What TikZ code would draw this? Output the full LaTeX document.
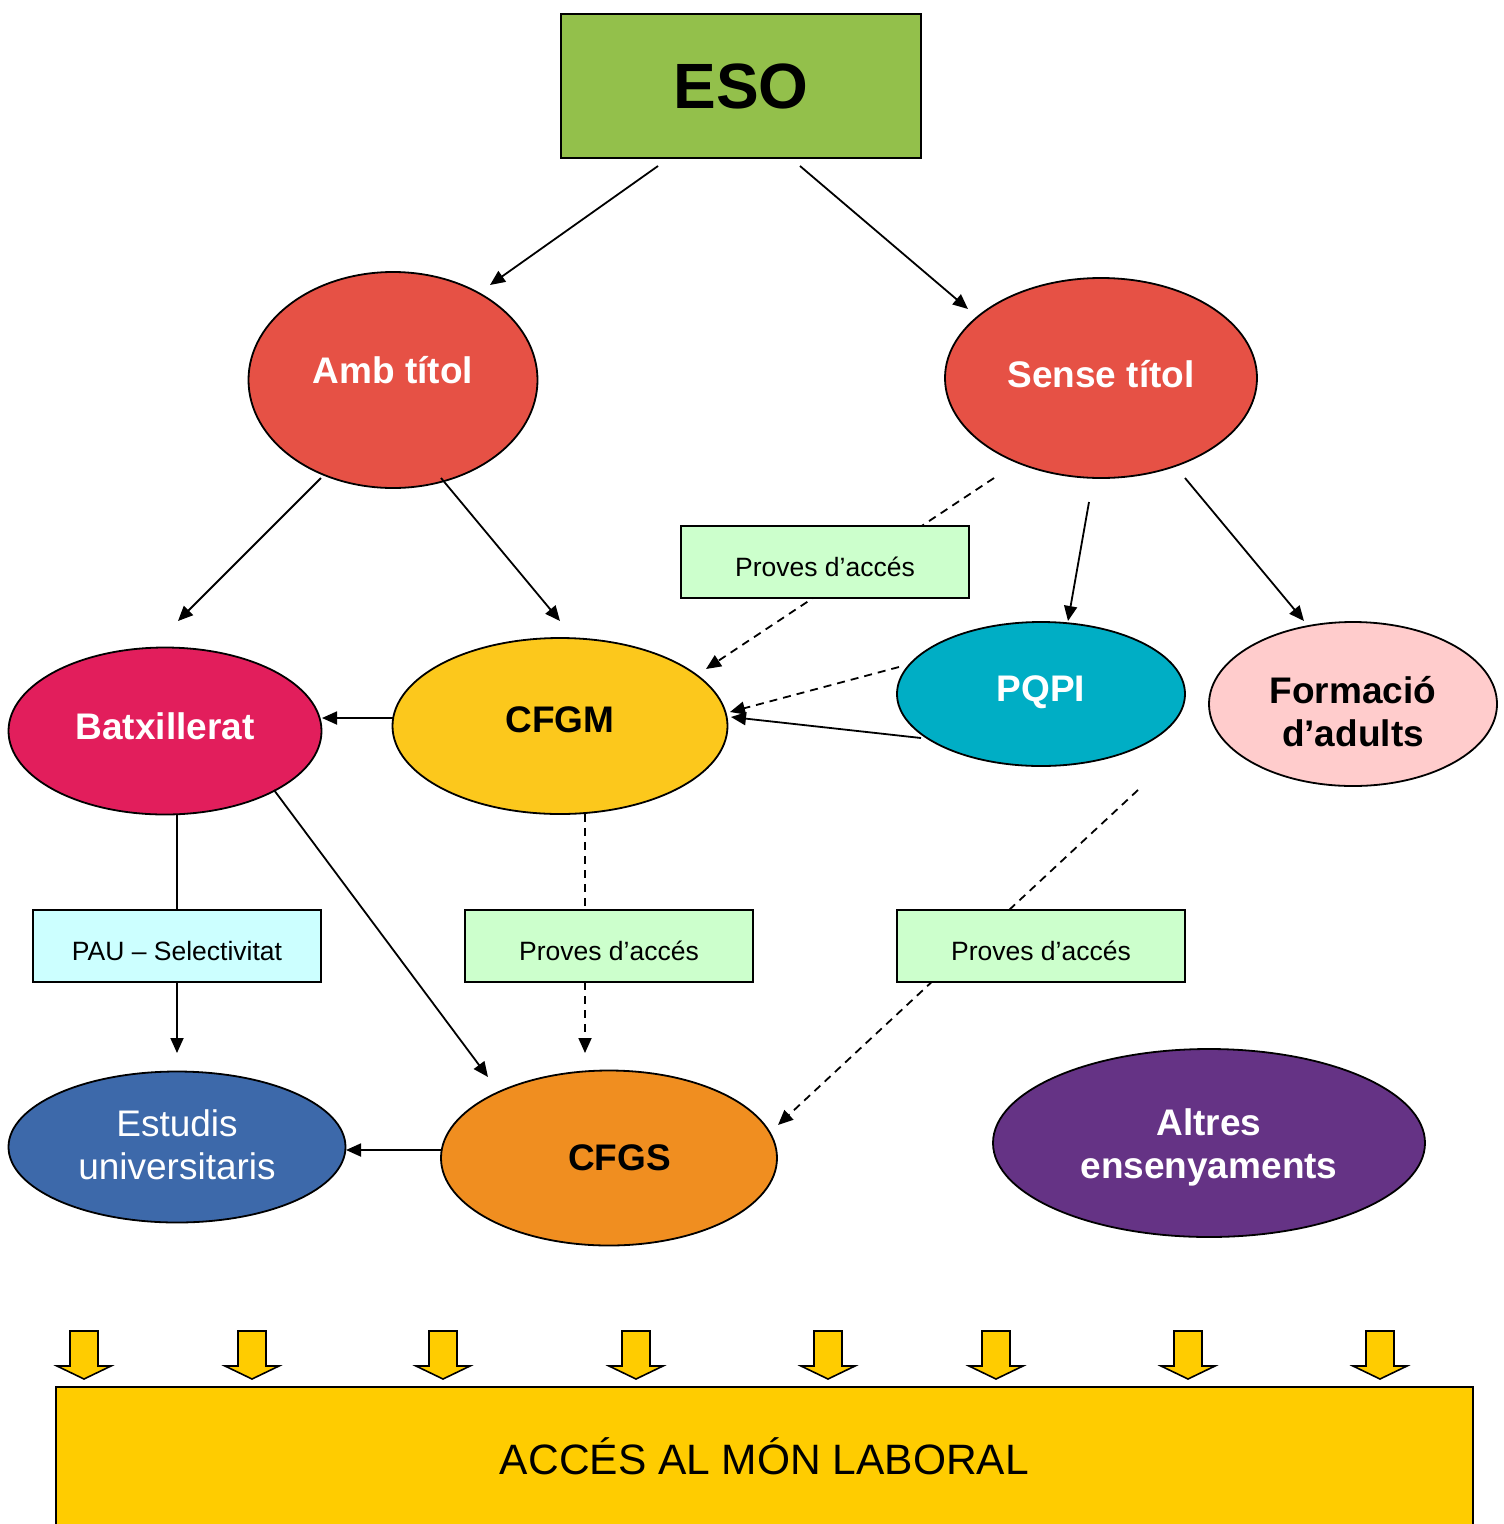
\documentclass[tikz,border=0pt]{standalone}
\usepackage{fontspec}
\setmainfont{Liberation Sans}
\usetikzlibrary{shapes.geometric,arrows.meta,calc}
\definecolor{esog}{RGB}{147,192,75}
\definecolor{redc}{RGB}{230,81,69}
\definecolor{batxc}{RGB}{226,30,92}
\definecolor{cfgmc}{RGB}{252,200,28}
\definecolor{pqpic}{RGB}{0,174,197}
\definecolor{formc}{RGB}{255,204,204}
\definecolor{estuc}{RGB}{61,105,170}
\definecolor{cfgsc}{RGB}{240,142,32}
\definecolor{altrc}{RGB}{101,51,133}
\definecolor{provc}{RGB}{204,255,204}
\definecolor{pauc}{RGB}{204,255,255}
\definecolor{laborc}{RGB}{255,204,0}
\newcommand\rz[2]{\raisebox{#1}[\height][\depth]{#2}}
\newcommand\twol[3]{\raisebox{#1}[\height][\depth]{\begin{tabular}{@{}c@{}}#2\\#3\end{tabular}}}
\begin{document}
\begin{tikzpicture}[x=1pt,y=-1pt,
  ell/.style={ellipse,draw=black,line width=1.8pt,inner sep=0pt},
  big/.style={font=\fontsize{37pt}{43pt}\selectfont\bfseries,align=center},
  reg/.style={font=\fontsize{37pt}{43pt}\selectfont,align=center},
  bx/.style={rectangle,draw=black,line width=1.8pt,minimum width=288pt,minimum height=72pt,inner sep=0pt,font=\fontsize{26.5pt}{31pt}\selectfont},
  arr/.style={line width=1.8pt,-{Triangle[length=15pt,width=13pt]}},
  dsh/.style={dash pattern=on 8pt off 6pt},
  barrow/.style={fill=laborc,draw=black,line width=1.6pt,line join=miter}
]
\useasboundingbox (0,0) rectangle (1504,1524);

% main nodes
\node[rectangle,draw=black,line width=1.8pt,fill=esog,minimum width=360pt,minimum height=144pt,inner sep=0pt,font=\fontsize{64pt}{70pt}\selectfont\bfseries] (eso) at (741,86) {ESO};
\node[ell,fill=redc,minimum width=289pt,minimum height=216pt,big,text=white] (amb) at (393,380) {\rz{10pt}{Amb títol}};
\node[ell,fill=redc,minimum width=312pt,minimum height=200pt,big,text=white] (sense) at (1101,378) {\rz{4pt}{Sense títol}};
\node[ell,fill=batxc,minimum width=313pt,minimum height=167pt,big,text=white] (batx) at (165,731) {\rz{5pt}{Batxillerat}};
\node[ell,fill=cfgmc,minimum width=335pt,minimum height=176pt,big,text=black] (cfgm) at (560,726) {\rz{6pt}{CFGM}};
\node[ell,fill=pqpic,minimum width=288pt,minimum height=144pt,big,text=white] (pqpi) at (1041,694) {\rz{2pt}{PQPI}};
\node[ell,fill=formc,minimum width=288pt,minimum height=164pt,big,text=black] (form) at (1353,704) {\twol{-12pt}{Formació}{d’adults}};
\node[ell,fill=estuc,minimum width=337pt,minimum height=151pt,reg,text=white] (estu) at (177,1147) {\twol{-2pt}{Estudis}{universitaris}};
\node[ell,fill=cfgsc,minimum width=336pt,minimum height=175pt,big,text=black] (cfgs) at (609,1158) {\hspace*{21pt}CFGS};
\node[ell,fill=altrc,minimum width=432pt,minimum height=188pt,big,text=white] (altr) at (1209,1143) {\twol{-5pt}{Altres}{ensenyaments}};

% connectors
\draw[arr] ($(eso)+(-83,80)$) -- ($(amb)+(97,-95)$);
\draw[arr] ($(eso)+(59,80)$) -- ($(sense)+(-133,-69)$);
\draw[arr] ($(amb)+(-72,98)$) -- ($(batx)+(13,-110)$);
\draw[arr] ($(amb)+(48,98)$) -- ($(cfgm)+(0,-105)$);
\draw[arr,dsh] ($(sense)+(-107,100)$) -- ($(cfgm)+(146,-57)$);
\draw[arr] ($(sense)+(-12,124)$) -- ($(pqpi)+(27,-73)$);
\draw[arr] ($(sense)+(84,100)$) -- ($(form)+(-49,-83)$);
\draw[arr,dsh] ($(pqpi)+(-142,-27)$) -- ($(cfgm)+(170,-14)$);
\draw[arr] ($(pqpi)+(-120,44)$) -- ($(cfgm)+(171,-9)$);
\draw[arr] ($(cfgm)+(-167,-8)$) -- ($(batx)+(157,-13)$);
\draw[arr] ($(batx)+(12,83)$) -- ($(estu)+(0,-94)$);
\draw[arr] ($(batx)+(109,59)$) -- ($(cfgs)+(-121,-81)$);
\draw[arr,dsh] ($(cfgm)+(25,88)$) -- ($(cfgs)+(-24,-105)$);
\draw[arr,dsh] ($(pqpi)+(97,96)$) -- ($(cfgs)+(169,-33)$);
\draw[arr] ($(cfgs)+(-168,-8)$) -- ($(estu)+(169,3)$);

% label boxes on top of the lines
\node[bx,fill=provc] (p1) at (825,562) {\rz{-5pt}{Proves d’accés}};
\node[bx,fill=pauc] (pau) at (177,946) {\rz{-5pt}{PAU – Selectivitat}};
\node[bx,fill=provc] (p2) at (609,946) {\rz{-5pt}{Proves d’accés}};
\node[bx,fill=provc] (p3) at (1041,946) {\rz{-5pt}{Proves d’accés}};

% bottom bar
\node[rectangle,draw=black,line width=1.8pt,fill=laborc,minimum width=1417pt,minimum height=150pt,inner sep=0pt,font=\fontsize{42.5pt}{50pt}\selectfont] (lab) at (764.5,1462) {\rz{6pt}{ACCÉS AL MÓN LABORAL}};

\foreach \x in {84,252,443,636,828,996,1188,1380}{
  \draw[barrow] (\x-14,1331) -- (\x+14,1331) -- (\x+14,1366) -- (\x+27,1366) -- (\x,1379) -- (\x-27,1366) -- (\x-14,1366) -- cycle;
}
\end{tikzpicture}
\end{document}
